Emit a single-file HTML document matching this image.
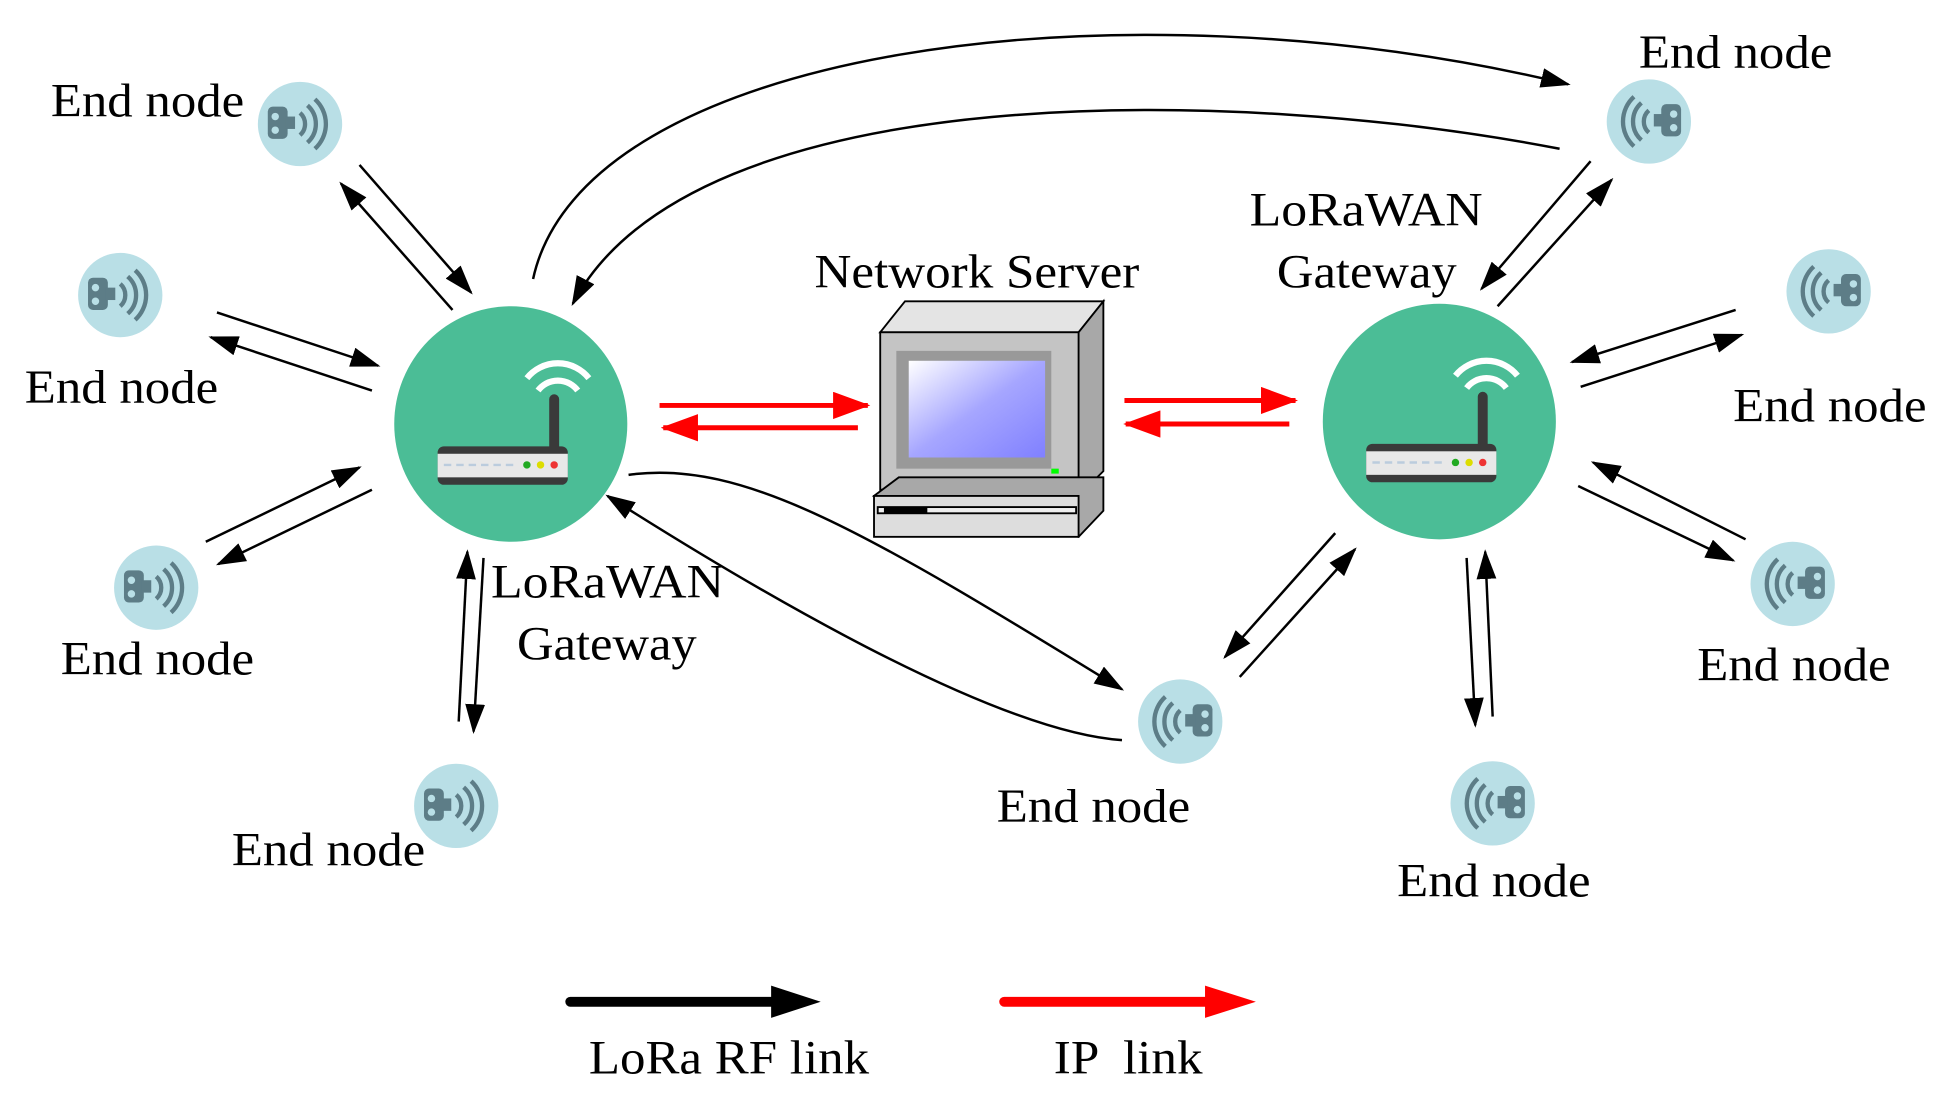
<!DOCTYPE html>
<html><head><meta charset="utf-8"><style>html,body{margin:0;padding:0;background:#fff}svg{display:block}text{font-family:"Liberation Serif",serif;font-size:38px;fill:#000}</style></head><body>
<svg width="1934" height="1096" viewBox="0 0 1560 884" preserveAspectRatio="none" xmlns="http://www.w3.org/2000/svg">
<defs>
<marker id="a" markerUnits="userSpaceOnUse" markerWidth="24" markerHeight="16" refX="22" refY="8" orient="auto"><path d="M0,0 L24,8 L0,16 Z" fill="#000"/></marker>
<marker id="r" markerUnits="userSpaceOnUse" markerWidth="30" markerHeight="22" refX="28" refY="11" orient="auto"><path d="M0,0 L30,11 L0,22 Z" fill="#f00"/></marker>
<g id="nodeL"><circle r="34" fill="#b9dfe6"/><rect x="-26" y="-14" width="16" height="26" rx="4" fill="#5d7d87"/><circle cx="-20" cy="-6" r="3" fill="#b9dfe6"/><circle cx="-20" cy="5" r="3" fill="#b9dfe6"/><rect x="-12" y="-6" width="8" height="10" fill="#5d7d87"/><g fill="none" stroke="#5d7d87" stroke-width="3.5"><path d="M0,-9 A12,12 0 0 1 0,9"/><path d="M6,-15 A20,20 0 0 1 6,15"/><path d="M12,-20 A27,27 0 0 1 12,20"/></g></g>
<g id="nodeR"><use href="#nodeL" transform="scale(-1,1)"/></g>
<g id="gw"><ellipse rx="94" ry="95" fill="#4bbd96"/><g fill="none" stroke="#fff" stroke-width="5"><path d="M22,-27 A20,20 0 0 1 54,-27"/><path d="M13,-37 A32,32 0 0 1 63,-37"/></g><rect x="31" y="-24" width="8" height="46" rx="4" fill="#3a3a3a"/><rect x="-59" y="18" width="105" height="31" rx="5" fill="#3a3a3a"/><rect x="-59" y="24" width="105" height="19" fill="#e8e8e8"/><circle cx="13" cy="33" r="3" fill="#2a2"/><circle cx="24" cy="33" r="3" fill="#dd0"/><circle cx="35" cy="33" r="3" fill="#e33"/><path d="M-54,33 H5" stroke="#bcd" stroke-dasharray="6,4" stroke-width="2"/></g>
<linearGradient id="scr" x1="0" y1="0" x2="1" y2="1"><stop offset="0" stop-color="#fff"/><stop offset="0.5" stop-color="#a6a6ff"/><stop offset="1" stop-color="#8080ff"/></linearGradient>
</defs>

<use href="#gw" x="412" y="342"/>
<use href="#gw" x="1161" y="340"/>

<g stroke="#000" stroke-width="1.5">
<path d="M710,268 L730,243 L890,243 L870,268 Z" fill="#e4e4e4"/>
<path d="M870,268 L890,243 L890,380 L870,400 Z" fill="#a8a8a8"/>
<rect x="710" y="268" width="160" height="127" fill="#c4c4c4"/>
<rect x="723" y="283" width="125" height="95" fill="#999" stroke="none"/>
<rect x="733" y="291" width="110" height="78" fill="url(#scr)" stroke="none"/>
<rect x="848" y="378" width="6" height="4" fill="#0f0" stroke="none"/>
<path d="M705,400 L725,385 L890,385 L890,412 L870,433 Z" fill="#a8a8a8"/>
<rect x="705" y="400" width="165" height="33" fill="#ddd"/>
<rect x="708" y="409" width="160" height="5" fill="#eee"/>
<rect x="713" y="409" width="35" height="5" fill="#000" stroke="none"/>
</g>

<use href="#nodeL" x="242" y="100"/>
<use href="#nodeL" x="97" y="238"/>
<use href="#nodeL" x="126" y="474"/>
<use href="#nodeL" x="368" y="650"/>
<use href="#nodeR" x="1330" y="98"/>
<use href="#nodeR" x="1475" y="235"/>
<use href="#nodeR" x="1446" y="471"/>
<use href="#nodeR" x="1204" y="648"/>
<use href="#nodeR" x="952" y="582"/>

<g stroke="#000" stroke-width="2" fill="none" marker-end="url(#a)">
<path d="M430,225 C470,40 900,-20 1265,68"/>
<path d="M1258,120 C1000,70 560,60 462,245"/>
<path d="M507,383 C600,370 700,430 905,556"/>
<path d="M905,597 C800,590 600,470 490,400"/>
<path d="M365,250 L275,148"/><path d="M290,133 L380,236"/>
<path d="M175,252 L305,295"/><path d="M300,315 L170,272"/>
<path d="M166,437 L290,377"/><path d="M300,395 L176,455"/>
<path d="M370,582 L377,445"/><path d="M390,450 L382,590"/>
<path d="M1283,130 L1195,233"/><path d="M1208,247 L1300,145"/>
<path d="M1400,250 L1268,292"/><path d="M1275,312 L1405,270"/>
<path d="M1408,435 L1285,373"/><path d="M1273,392 L1398,452"/>
<path d="M1183,450 L1190,585"/><path d="M1204,578 L1198,445"/>
<path d="M1077,430 L988,530"/><path d="M1000,546 L1093,443"/>
</g>
<g stroke="#f00" stroke-width="4" fill="none" marker-end="url(#r)">
<path d="M532,327 L700,327"/><path d="M692,345 L535,345"/>
<path d="M907,323 L1045,323"/><path d="M1040,342 L908,342"/>
</g>
<path d="M460,808 L625,808" stroke="#000" stroke-width="8" stroke-linecap="round"/>
<path d="M622,795 L662,808 L622,821 Z" fill="#000"/>
<path d="M810,808 L975,808" stroke="#f00" stroke-width="8" stroke-linecap="round"/>
<path d="M972,795 L1013,808 L972,821 Z" fill="#f00"/>

<g>
<text x="41" y="94" textLength="156" lengthAdjust="spacingAndGlyphs">End node</text>
<text x="20" y="325" textLength="156" lengthAdjust="spacingAndGlyphs">End node</text>
<text x="49" y="544" textLength="156" lengthAdjust="spacingAndGlyphs">End node</text>
<text x="187" y="698" textLength="156" lengthAdjust="spacingAndGlyphs">End node</text>
<text x="1322" y="55" textLength="156" lengthAdjust="spacingAndGlyphs">End node</text>
<text x="1398" y="340" textLength="156" lengthAdjust="spacingAndGlyphs">End node</text>
<text x="1369" y="549" textLength="156" lengthAdjust="spacingAndGlyphs">End node</text>
<text x="1127" y="723" textLength="156" lengthAdjust="spacingAndGlyphs">End node</text>
<text x="804" y="663" textLength="156" lengthAdjust="spacingAndGlyphs">End node</text>
<text x="657" y="232" textLength="262" lengthAdjust="spacingAndGlyphs">Network Server</text>
<text x="1008" y="182" textLength="188" lengthAdjust="spacingAndGlyphs">LoRaWAN</text>
<text x="1030" y="232" textLength="145" lengthAdjust="spacingAndGlyphs">Gateway</text>
<text x="396" y="482" textLength="188" lengthAdjust="spacingAndGlyphs">LoRaWAN</text>
<text x="417" y="532" textLength="145" lengthAdjust="spacingAndGlyphs">Gateway</text>
<text x="475" y="866" textLength="226" lengthAdjust="spacingAndGlyphs">LoRa RF link</text>
<text x="850" y="866" textLength="120" lengthAdjust="spacingAndGlyphs" xml:space="preserve">IP  link</text>
</g>
</svg>
</body></html>
